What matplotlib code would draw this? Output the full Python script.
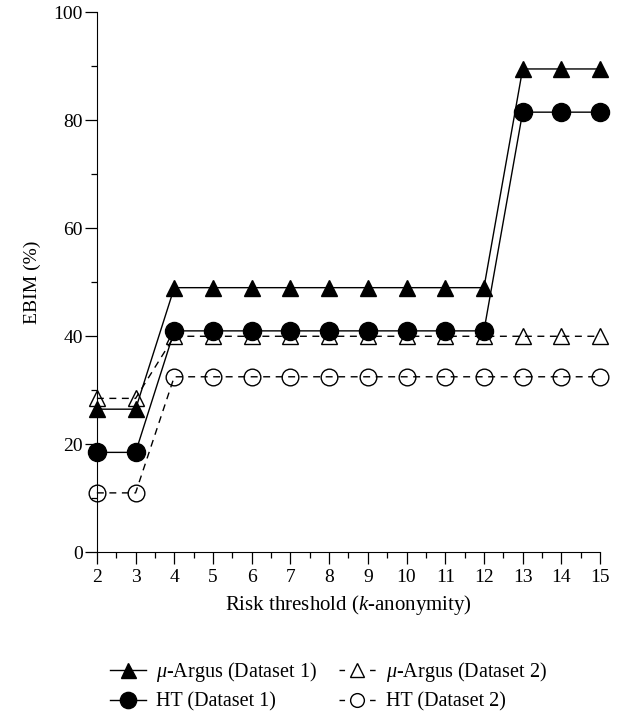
import matplotlib
matplotlib.use("Agg")
import matplotlib.pyplot as plt
from matplotlib.lines import Line2D

plt.rcParams['font.family'] = ['Liberation Serif', 'DejaVu Serif']
plt.rcParams['mathtext.fontset'] = 'custom'
plt.rcParams['mathtext.rm'] = 'Liberation Serif'
plt.rcParams['mathtext.it'] = 'Liberation Serif:italic'

k_values = [2, 3, 4, 5, 6, 7, 8, 9, 10, 11, 12, 13, 14, 15]
argus_d1 = [26.5, 26.5, 49, 49, 49, 49, 49, 49, 49, 49, 49, 89.5, 89.5, 89.5]
ht_d1 = [18.5, 18.5, 41, 41, 41, 41, 41, 41, 41, 41, 41, 81.5, 81.5, 81.5]
argus_d2 = [28.5, 28.5, 40, 40, 40, 40, 40, 40, 40, 40, 40, 40, 40, 40]
ht_d2 = [11, 11, 32.5, 32.5, 32.5, 32.5, 32.5, 32.5, 32.5, 32.5, 32.5, 32.5, 32.5, 32.5]

labels = [r'$\mathit{\mu}$-Argus (Dataset 1)', 'HT (Dataset 1)',
          r'$\mathit{\mu}$-Argus (Dataset 2)', 'HT (Dataset 2)']

fig = plt.figure(figsize=(6.29, 7.21), dpi=100)
ax = fig.add_axes([0.154, 0.234, 0.8, 0.749])

# dataset 2 first, open markers with the dashed line showing through
ax.plot(k_values, argus_d2, color='black', lw=1.0, marker='^', ms=11,
        mfc='none', mec='black', mew=1.0, dashes=(5, 4), clip_on=False)
ax.plot(k_values, ht_d2, color='black', lw=1.0, marker='o', ms=12,
        mfc='none', mec='black', mew=1.0, dashes=(5, 4), clip_on=False)
ax.plot(k_values, argus_d1, '-', color='black', lw=1.0, marker='^', ms=12,
        mfc='black', mec='black', clip_on=False)
ax.plot(k_values, ht_d1, '-', color='black', lw=1.0, marker='o', ms=13,
        mfc='black', mec='black', clip_on=False)

ax.set_xlim(2, 15)
ax.set_ylim(0, 100)
ax.set_xticks(k_values)
ax.set_xticks([k + 0.5 for k in k_values[:-1]], minor=True)
ax.set_yticks([0, 20, 40, 60, 80, 100])
ax.set_yticks([10, 30, 50, 70, 90], minor=True)
ax.tick_params(which='major', length=8.6, width=0.9, labelsize=14, direction='out')
ax.tick_params(axis='y', which='major', pad=1.5)
ax.tick_params(which='minor', length=4.3, width=0.9, direction='out')
ax.spines['top'].set_visible(False)
ax.spines['right'].set_visible(False)

ax.set_xlabel(r'Risk threshold ($\mathit{k}$-anonymity)', fontsize=15, labelpad=5)
ax.set_ylabel('EBIM (%)', fontsize=14, labelpad=9)

# legend proxies: short dashes at both ends of the open-marker handles
h1 = Line2D([], [], color='black', lw=1.0, marker='^', ms=12, mfc='black')
h2 = Line2D([], [], color='black', lw=1.0, marker='o', ms=13, mfc='black')
h3 = Line2D([], [], color='black', lw=1.0, marker='^', ms=11, mfc='none',
            dashes=(4, 18))
h4 = Line2D([], [], color='black', lw=1.0, marker='o', ms=11, mfc='none',
            dashes=(4, 18))

fig.legend([h1, h2, h3, h4], labels, loc='center left', bbox_to_anchor=(0.146, 0.0485),
           ncol=2, frameon=False, fontsize=14.5, handlelength=1.8,
           columnspacing=1.1, labelspacing=0.4, handletextpad=0.5, markerscale=0.9)

fig.savefig('out.png', dpi=100)
